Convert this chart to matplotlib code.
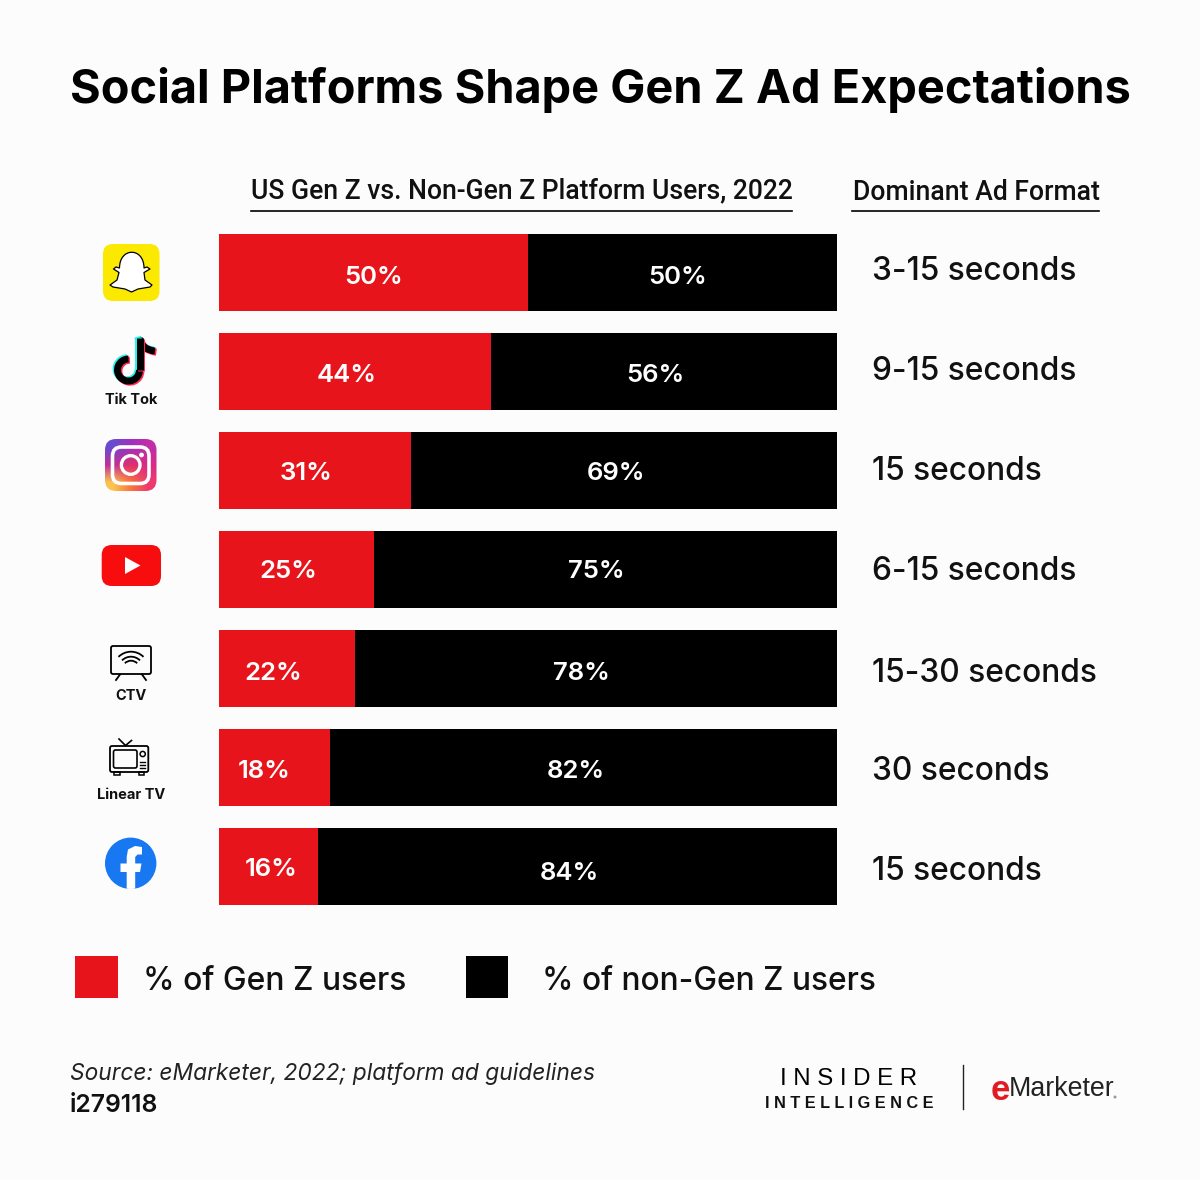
import numpy as np
import matplotlib
matplotlib.use('Agg')
import matplotlib.pyplot as plt
from matplotlib.patches import Rectangle, FancyBboxPatch, Circle, Polygon, PathPatch, Arc
from matplotlib.path import Path
from matplotlib.colors import to_rgb

plt.rcParams['font.family'] = ['Inter', 'DejaVu Sans']

platforms = ['Snapchat', 'Tik Tok', 'Instagram', 'YouTube', 'CTV', 'Linear TV', 'Facebook']
gen_z = [50, 44, 31, 25, 22, 18, 16]
non_gen_z = [50, 56, 69, 75, 78, 82, 84]
ad_format = ['3-15 seconds', '9-15 seconds', '15 seconds', '6-15 seconds',
             '15-30 seconds', '30 seconds', '15 seconds']

RED = '#e8141c'
BG = '#fdfcfd'
W, H = 1200, 1180

fig = plt.figure(figsize=(12, 11.8), dpi=100, facecolor=BG)

# bars
ax = fig.add_axes([219 / W, 1 - 916 / H, 618 / W, 693 / H])
y = np.arange(len(platforms))
ax.barh(y, gen_z, height=0.778, color=RED)
ax.barh(y, non_gen_z, left=gen_z, height=0.778, color='black')
ax.set_xlim(0, 100)
ax.set_ylim(6.5, -0.5)
ax.axis('off')

# overlay in image pixels, everything that is not a bar goes here
pg = fig.add_axes([0, 0, 1, 1], zorder=2)
pg.set_xlim(0, W)
pg.set_ylim(H, 0)
pg.axis('off')

# the labels in the picture are not centred in their segments
red_lab_x = [374, 347, 306, 288, 273, 264, 271]
red_lab_y = [277, 375, 474, 572, 673, 771, 869]
blk_lab_x = [678, 655, 616, 596, 581, 576, 569]
blk_lab_y = [277, 375, 474, 572, 673, 771, 873]
fmt_y = [272, 372, 472, 572, 674, 772, 872]
for i in y:
    pg.text(red_lab_x[i], red_lab_y[i], f'{gen_z[i]}%', color='white', fontsize=18.5,
            fontweight='semibold', ha='center', va='center')
    pg.text(blk_lab_x[i], blk_lab_y[i], f'{non_gen_z[i]}%', color='white',
            fontsize=18.5, fontweight='semibold', ha='center', va='center')
    pg.text(872, fmt_y[i], ad_format[i], fontsize=22.8, fontweight='medium',
            color='#111111', ha='left', va='center')

# title and headers
pg.text(600.5, 90, 'Social Platforms Shape Gen Z Ad Expectations', fontsize=33.75, fontweight='bold',
        color='black', ha='center', va='center')
pg.text(521.5, 191, 'US Gen Z vs. Non-Gen Z Platform Users, 2022', fontsize=19.1, fontweight='medium',
        family=['Roboto', 'DejaVu Sans'], ha='center', va='center', color='#111111')
pg.text(976, 192, 'Dominant Ad Format', fontsize=19.2, fontweight='medium',
        family=['Roboto', 'DejaVu Sans'], ha='center', va='center', color='#111111')
pg.plot([251, 792], [211, 211], color='black', lw=1.2)
pg.plot([852, 1099], [211, 211], color='black', lw=1.2)

# legend
pg.add_patch(Rectangle((75, 956), 43, 42, fc=RED, ec='none'))
pg.add_patch(Rectangle((466, 956), 42, 42, fc='black', ec='none'))
pg.text(143, 982, '% of Gen Z users', fontsize=22.9, fontweight='medium', va='center', color='#111111')
pg.text(542, 982, '% of non-Gen Z users', fontsize=22.8, fontweight='medium', va='center', color='#111111')

# footer
pg.text(70, 1074, 'Source: eMarketer, 2022; platform ad guidelines', fontsize=16.4, style='italic',
        va='center', color='#222222')
pg.text(70, 1105, 'i279118', fontsize=17.8, fontweight='semibold', va='center', color='#111111')
pg.text(849, 1079, 'I N S I D E R', fontsize=17.3, family='Liberation Sans', ha='center', va='center',
        color='black')
pg.text(849.5, 1104, 'I N T E L L I G E N C E', fontsize=11.7, family='Liberation Sans', fontweight='bold',
        ha='center', va='center', color='#111111')
pg.plot([963, 963], [1065, 1109], color='#222222', lw=1)
pg.text(991, 1090, 'e', fontsize=25, family='Liberation Sans', fontweight='bold', color='#e01b22',
        ha='left', va='center')
pg.text(1009, 1089, 'Marketer', fontsize=19.3, family='Liberation Sans', color='#222222', ha='left', va='center')
pg.add_patch(Circle((1115, 1097), 1.5, fc='#999999', ec='none'))


def path_patch(verts, codes, **kw):
    p = PathPatch(Path(verts, codes), **kw)
    pg.add_patch(p)
    return p


# snapchat
pg.add_patch(FancyBboxPatch((103, 244), 56.5, 57, boxstyle='round,pad=0,rounding_size=10', fc='#fbe900', ec='none'))
ghost = [(119.5, 268), (119.5, 247), (144, 247), (144, 268), (147, 267), (150, 269), (144, 272.5),
         (145, 280), (152, 285), (150, 287), (144, 288), (138, 289), (131.5, 292), (125, 289), (119, 288),
         (113, 287), (110, 285), (117, 280), (119, 272.5), (113.5, 269), (116, 267)]
verts = ghost + [ghost[0]]
codes = [Path.MOVETO, Path.CURVE4, Path.CURVE4, Path.CURVE4] + [Path.LINETO] * len(ghost[4:]) + [Path.CLOSEPOLY]
path_patch(verts, codes, fc='white', ec='black', lw=0.9, joinstyle='round')

# tiktok, same note three times, cyan and magenta behind black
for dx, dy, col in [(-1.4, -1.2, '#25f4ee'), (1.4, 1.2, '#fe2c55'), (0, 0, 'black')]:
    pg.plot([139.5 + dx, 139.5 + dx], [338 + dy, 370 + dy], color=col, lw=5, solid_capstyle='butt')
    pg.add_patch(Arc((128.5 + dx, 370 + dy), 22, 22, theta1=0, theta2=270, color=col, lw=5))
    path_patch([(139 + dx, 338 + dy), (142 + dx, 350 + dy), (155 + dx, 351 + dy)],
               [Path.MOVETO, Path.CURVE3, Path.CURVE3], fc='none', ec=col, lw=5)
pg.text(131.5, 400, platforms[1], fontsize=10.5, fontweight='bold', ha='center', va='center', color='#111111')

# instagram
corners = [['#6a4bd0', '#a030c0', '#c02ea8'],
           ['#c22f9a', '#e0306a', '#d82c88'],
           ['#fcc24f', '#f9743c', '#ee3a6c']]
grad = pg.imshow(np.array([[to_rgb(c) for c in row] for row in corners]),
                 extent=(105, 156.5, 491, 439), interpolation='bilinear', aspect='auto', zorder=2)
clip = FancyBboxPatch((105, 439), 51.5, 52, boxstyle='round,pad=0,rounding_size=11', fc='none', ec='none')
pg.add_patch(clip)
grad.set_clip_path(clip)
pg.set_xlim(0, W)
pg.set_ylim(H, 0)
pg.add_patch(FancyBboxPatch((112.5, 447), 36.5, 36.5, boxstyle='round,pad=0,rounding_size=9', fc='none',
                            ec='white', lw=2.6, zorder=3))
pg.add_patch(Circle((130.7, 465), 9.3, fc='none', ec='white', lw=2.4, zorder=3))
pg.add_patch(Circle((141.5, 455), 2.4, fc='white', ec='none', zorder=3))

# youtube
pg.add_patch(FancyBboxPatch((101.7, 545), 59.3, 41, boxstyle='round,pad=0,rounding_size=10', fc='#f70d0d', ec='none'))
pg.add_patch(Polygon([(125, 557), (125, 574), (140.5, 565.5)], fc='white', ec='none'))

# ctv
pg.add_patch(FancyBboxPatch((111, 646), 40, 28, boxstyle='round,pad=0,rounding_size=2', fc='none', ec='black', lw=1.3))
pg.plot([116, 120], [680, 674.5], color='black', lw=1.3)
pg.plot([146, 142], [680, 674.5], color='black', lw=1.3)
for d in [17.4, 25.4, 35.4]:
    pg.add_patch(Arc((131, 669.4), d, d, theta1=225, theta2=315, color='black', lw=1.3))
pg.text(131, 696, platforms[4], fontsize=10.5, fontweight='bold', ha='center', va='center', color='#111111')

# linear tv
pg.add_patch(FancyBboxPatch((110, 746), 38.3, 26, boxstyle='round,pad=0,rounding_size=2', fc='none', ec='black', lw=1.3))
pg.add_patch(FancyBboxPatch((113.5, 750), 23.5, 18, boxstyle='round,pad=0,rounding_size=2', fc='none', ec='black', lw=1.2))
pg.plot([119, 125.5, 131.5], [739, 745.5, 740.5], color='black', lw=1.2)
pg.add_patch(Circle((142.7, 754), 2.6, fc='none', ec='black', lw=1.1))
for ly in [762, 765, 768]:
    pg.plot([140, 145], [ly, ly], color='black', lw=1)
pg.add_patch(Rectangle((114, 772), 5.5, 3, fc='none', ec='black', lw=1.1))
pg.add_patch(Rectangle((138.5, 772), 5.5, 3, fc='none', ec='black', lw=1.1))
pg.text(131, 795, platforms[5], fontsize=10.5, fontweight='bold', ha='center', va='center', color='#111111')

# facebook
circ = Circle((130.7, 863.3), 25.7, fc='#1778f2', ec='none')
pg.add_patch(circ)
f_shape = [(126.7, 890), (126.7, 872), (120.5, 872), (120.5, 863.5), (126.7, 863.5), (126.7, 857),
           (128, 849.5), (135, 846), (142, 847), (142, 854.5), (137.5, 854.5), (135.2, 857), (135.2, 863.5),
           (141.5, 863.5), (140, 872), (135.2, 872), (135.2, 890)]
fp = Polygon(f_shape, fc='white', ec='none', joinstyle='round')
pg.add_patch(fp)
fp.set_clip_path(circ)

plt.savefig('out.png', dpi=100, facecolor=BG)
